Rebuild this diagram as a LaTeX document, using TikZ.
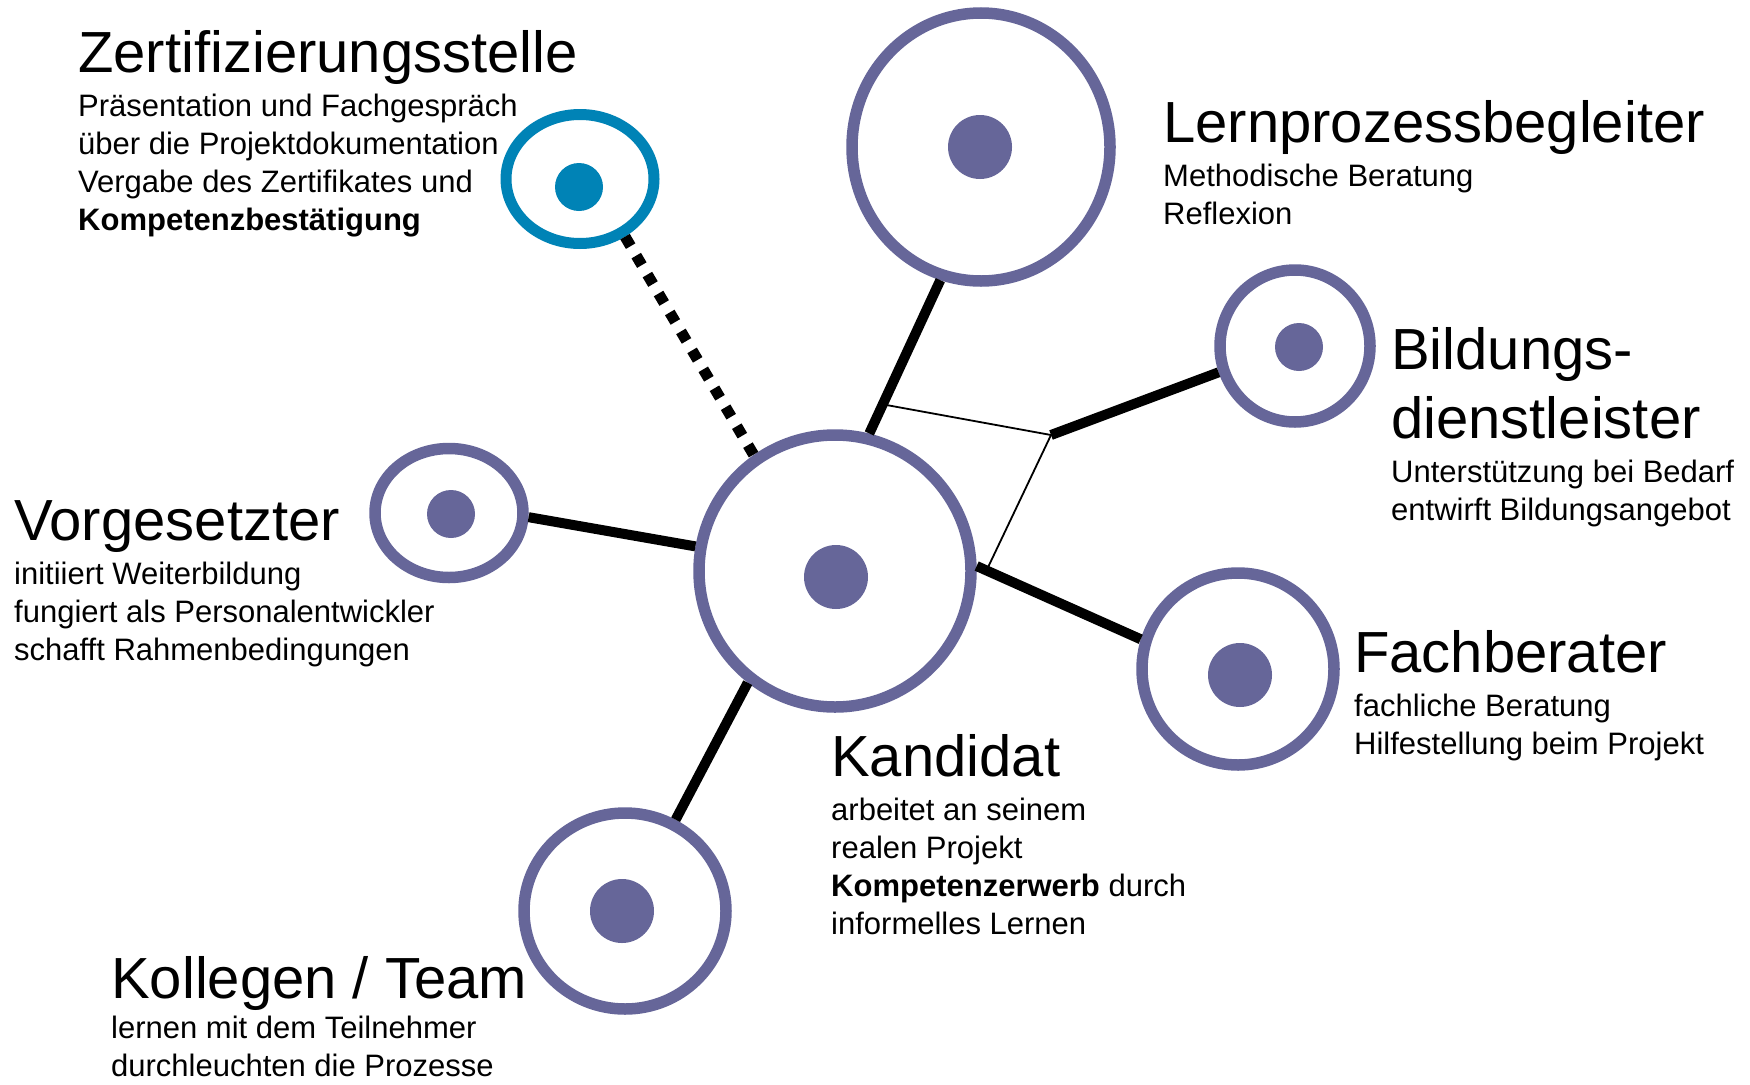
\documentclass[tikz,border=0pt]{standalone}
\usepackage{fontspec}
\setmainfont{Liberation Sans}
\usetikzlibrary{shapes.geometric,calc}
\definecolor{ringc}{RGB}{102,102,153}
\definecolor{certc}{RGB}{0,131,182}
\tikzset{
  ringnode/.style={draw=ringc, line width=11.5pt, fill=white, inner sep=0pt},
  certnode/.style={draw=certc, line width=11pt, fill=white, inner sep=0pt, ellipse},
  dotnode/.style={circle, fill=ringc, inner sep=0pt, minimum size=#1},
  conn/.style={line width=10pt, line cap=butt},
  thinconn/.style={line width=1.8pt},
  dotconn/.style={line width=11pt, dash pattern=on 11pt off 11pt},
  ttl/.style={anchor=base west, inner sep=0pt, font=\fontsize{58}{70}\selectfont},
  bdy/.style={anchor=base west, inner sep=0pt, font=\fontsize{31}{38}\selectfont},
}
\newcommand\lblock[6]{%
  \node[ttl] (#1) at (#2,#3) {#4};
  \foreach \ln [count=\k] in {#5} {
    \node[bdy] (#1-\k) at (#2, #3+#6+38*\k) {\ln};
  }
}
\begin{document}
\begin{tikzpicture}[x=1pt,y=-1pt]
\useasboundingbox (0,0) rectangle (1750,1084);
% circles
\node[ringnode, circle, minimum size=272pt] (kand) at (835,571) {};
\node[dotnode=64pt] (kanddot) at (836,577) {};
\node[certnode, minimum width=148pt, minimum height=129pt] (zert) at (580,179) {};
\node[circle, fill=certc, inner sep=0pt, minimum size=48pt] (zertdot) at (579,187) {};
\node[ringnode, ellipse, minimum width=258pt, minimum height=268pt] (lern) at (981,147) {};
\node[dotnode=64pt] (lerndot) at (980,147) {};
\node[ringnode, ellipse, minimum width=150pt, minimum height=152pt] (bild) at (1295,346) {};
\node[dotnode=48pt] (bilddot) at (1299,347) {};
\node[ringnode, ellipse, minimum width=148pt, minimum height=129pt] (vorg) at (449,513) {};
\node[dotnode=48pt] (vorgdot) at (451,514) {};
\node[ringnode, circle, minimum size=192pt] (fach) at (1238,669) {};
\node[dotnode=64pt] (fachdot) at (1240,675) {};
\node[ringnode, ellipse, minimum width=202pt, minimum height=196pt] (koll) at (625,911) {};
\node[dotnode=64pt] (kolldot) at (622,911) {};
% connectors
\draw[conn] (kand.232) -- (koll.61);
\draw[conn] (kand.76) -- (lern.253);
\draw[conn] (kand.170) -- (vorg.-3);
\draw[conn] (kand.2) -- (fach.163);
\draw[dotconn] (zert.308) -- (kand.125);
\coordinate (j) at (1051,435);
\draw[conn] (j) -- (bild.199);
\draw[thinconn] ($(kand.76)!0.19!(lern.253)$) -- (j) -- ($(kand.2)!0.06!(fach.163)$);
% labels
\lblock{tzert}{78}{72}{Zertifizierungsstelle}{Präsentation und Fachgespräch,über die Projektdokumentation,Vergabe des Zertifikates und,\textbf{Kompetenzbestätigung}}{6}
\lblock{tlern}{1163}{142}{Lernprozessbegleiter}{Methodische Beratung,Reflexion}{6}
\node[ttl] (tbild0) at (1391,369) {Bildungs-};
\lblock{tbild}{1391}{438}{dienstleister}{Unterstützung bei Bedarf,entwirft Bildungsangebot}{6}
\lblock{tvorg}{14}{540}{Vorgesetzter}{initiiert Weiterbildung,fungiert als Personalentwickler,schafft Rahmenbedingungen}{6}
\lblock{tfach}{1354}{672}{Fachberater}{fachliche Beratung,Hilfestellung beim Projekt}{6}
\lblock{tkand}{831}{776}{Kandidat}{arbeitet an seinem,realen Projekt,\textbf{Kompetenzerwerb} durch,informelles Lernen}{6}
\lblock{tkoll}{111}{998}{Kollegen / Team}{lernen mit dem Teilnehmer,durchleuchten die Prozesse}{2}
\end{tikzpicture}
\end{document}
